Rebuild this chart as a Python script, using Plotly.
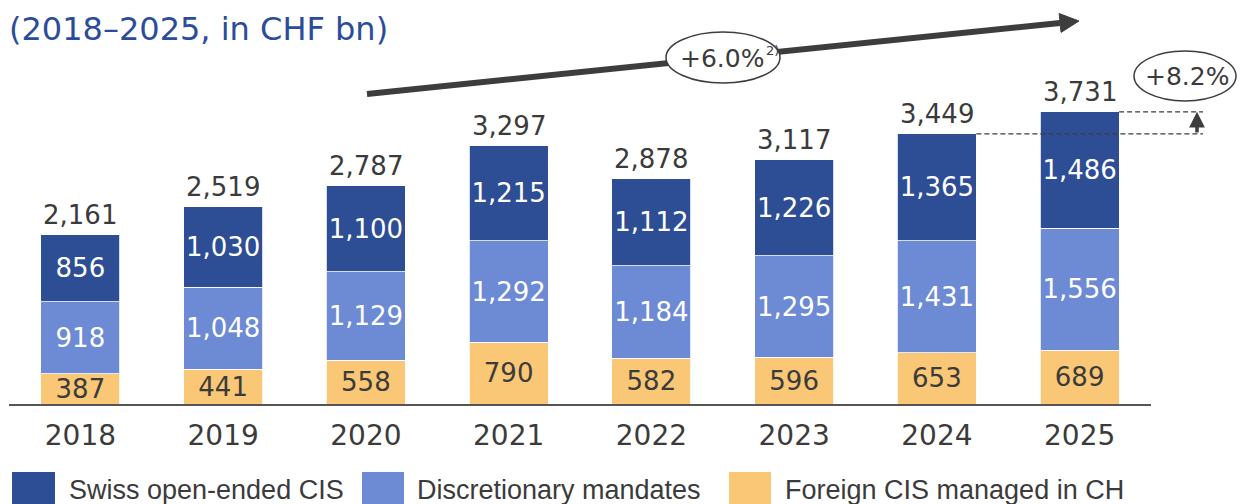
import plotly.graph_objects as go

years = ["2018", "2019", "2020", "2021", "2022", "2023", "2024", "2025"]
foreign_cis = [387, 441, 558, 790, 582, 596, 653, 689]
discretionary = [918, 1048, 1129, 1292, 1184, 1295, 1431, 1556]
swiss_cis = [856, 1030, 1100, 1215, 1112, 1226, 1365, 1486]
totals = [2161, 2519, 2787, 3297, 2878, 3117, 3449, 3731]
series_names = ["Swiss open-ended CIS", "Discretionary mandates", "Foreign CIS managed in CH"]
cagr_label = "+6.0%"
yoy_label = "+8.2%"
subtitle = "(2018–2025, in CHF bn)"

C_DARK = "#2D4D95"
C_MID = "#6D8AD4"
C_YEL = "#F9C775"
C_TXT = "#3B3B3B"
C_ARR = "#3D3D3D"
FONT = "DejaVu Sans"

OFF = 8  # page body margin
W, H = 1245, 504 - OFF
ML, MT = 1, 0
PW = 1142
PH = 404 - OFF
MR = W - ML - PW
MB = H - MT - PH
SCALE = 0.0783  # px per CHF bn
YMAX = PH / SCALE
XMIN, XMAX = -0.5, 7.5
BARW = 0.553


def px(x):  # page pixel -> paper x
    return (x - OFF - ML) / PW


def py(y):  # page pixel -> paper y
    return (404 - y) / PH


def xd(v):  # data x -> paper x
    return (v - XMIN) / (XMAX - XMIN)


xs = list(range(len(years)))
fig = go.Figure()


def fmt(v):
    return f"{v:,}"


for vals, name, col, tcol in [(foreign_cis, series_names[2], C_YEL, C_TXT),
                              (discretionary, series_names[1], C_MID, "white"),
                              (swiss_cis, series_names[0], C_DARK, "white")]:
    fig.add_trace(go.Bar(x=xs, y=vals, name=name, width=BARW,
                         marker=dict(color=col, line=dict(color="white", width=0.8)),
                         text=[fmt(v) for v in vals], textposition="inside", insidetextanchor="middle",
                         textangle=0, textfont=dict(family=FONT, size=26, color=tcol),
                         showlegend=False, hoverinfo="skip"))

annotations = []
for i, t in enumerate(totals):
    annotations.append(dict(x=i, y=t, xref="x", yref="y", text=fmt(t), showarrow=False, yanchor="bottom",
                            yshift=3, font=dict(family=FONT, size=26, color=C_TXT)))

shapes = []
# CAGR arrow
x0p, y0p, x1p, y1p = 367, 94, 1079, 21
dx, dy = x1p - x0p, y1p - y0p
L = (dx ** 2 + dy ** 2) ** 0.5
ux, uy = dx / L, dy / L
nx, ny = -uy, ux
bx, by = x1p - 19 * ux, y1p - 19 * uy
shapes.append(dict(type="line", xref="paper", yref="paper", x0=px(x0p), y0=py(y0p), x1=px(bx), y1=py(by),
                   line=dict(color=C_ARR, width=6)))
pts = [(x1p, y1p), (bx + 9.5 * nx, by + 9.5 * ny), (bx - 9.5 * nx, by - 9.5 * ny)]
path = "M " + " L ".join(f"{px(a):.5f},{py(b):.5f}" for a, b in pts) + " Z"
shapes.append(dict(type="path", xref="paper", yref="paper", path=path, fillcolor=C_ARR, line=dict(color=C_ARR, width=1)))
# CAGR ellipse
shapes.append(dict(type="circle", xref="paper", yref="paper", x0=px(666), x1=px(780), y0=py(32), y1=py(83),
                   fillcolor="white", line=dict(color=C_ARR, width=1.5)))
annotations.append(dict(x=px(722), y=py(58), xref="paper", yref="paper", text=cagr_label, showarrow=False,
                        xanchor="center", yanchor="middle", font=dict(family=FONT, size=25, color=C_TXT)))
annotations.append(dict(x=px(772), y=py(50), xref="paper", yref="paper", text="2)", showarrow=False,
                        xanchor="center", yanchor="middle", font=dict(family=FONT, size=13, color=C_TXT)))

# YoY dashed lines and arrow
xr = px(1203)
shapes.append(dict(type="line", xref="paper", yref="paper", x0=xd(6 + BARW / 2), x1=xr,
                   y0=totals[6] / YMAX, y1=totals[6] / YMAX,
                   line=dict(color=C_ARR, width=1.2, dash="5px,3px")))
shapes.append(dict(type="line", xref="paper", yref="paper", x0=xd(7 + BARW / 2), x1=xr,
                   y0=totals[7] / YMAX, y1=totals[7] / YMAX,
                   line=dict(color=C_ARR, width=1.2, dash="5px,3px")))
annotations.append(dict(x=px(1197), y=totals[7] / YMAX, xref="paper", yref="paper", axref="pixel", ayref="pixel",
                        ax=0, ay=(totals[7] - totals[6]) * SCALE,
                        text="", showarrow=True, arrowhead=2, arrowsize=0.9, arrowwidth=3.5, arrowcolor=C_ARR))
shapes.append(dict(type="circle", xref="paper", yref="paper", x0=px(1134), x1=px(1236), y0=py(51), y1=py(101),
                   fillcolor="white", line=dict(color=C_ARR, width=1.5)))
annotations.append(dict(x=px(1187), y=py(77), xref="paper", yref="paper", text=yoy_label, showarrow=False,
                        xanchor="center", yanchor="middle", font=dict(family=FONT, size=25, color=C_TXT)))

# subtitle
annotations.append(dict(x=px(8), y=py(29), xref="paper", yref="paper", text=subtitle, showarrow=False,
                        xanchor="left", yanchor="middle", xshift=-1,
                        font=dict(family=FONT, size=32, color="#2B4C9B")))

# legend (manual)
leg = [(series_names[0], C_DARK, 12, 55, 67), (series_names[1], C_MID, 362, 404, 415),
       (series_names[2], C_YEL, 729, 771, 783)]
for name, col, sx0, sx1, tx in leg:
    shapes.append(dict(type="rect", xref="paper", yref="paper", x0=px(sx0), x1=px(sx1), y0=py(472), y1=py(516),
                       fillcolor=col, line=dict(width=0)))
    annotations.append(dict(x=px(tx), y=py(490), xref="paper", yref="paper", text=name, showarrow=False,
                            xanchor="left", yanchor="middle",
                            font=dict(family="Liberation Sans", size=27, color=C_TXT)))

fig.update_layout(
    width=W, height=H, margin=dict(l=ML, r=MR, t=MT, b=MB),
    barmode="stack",
    plot_bgcolor="white", paper_bgcolor="white",
    uniformtext=dict(minsize=26, mode="show"),
    shapes=shapes, annotations=annotations, showlegend=False,
    xaxis=dict(range=[XMIN, XMAX], tickvals=xs, ticktext=years, showgrid=False, zeroline=False,
               showline=True, linecolor="#555555", linewidth=2, ticks="", ticklabelstandoff=5,
               tickfont=dict(family=FONT, size=28, color=C_TXT)),
    yaxis=dict(range=[0, YMAX], visible=False),
)

fig.write_html("out.html")
